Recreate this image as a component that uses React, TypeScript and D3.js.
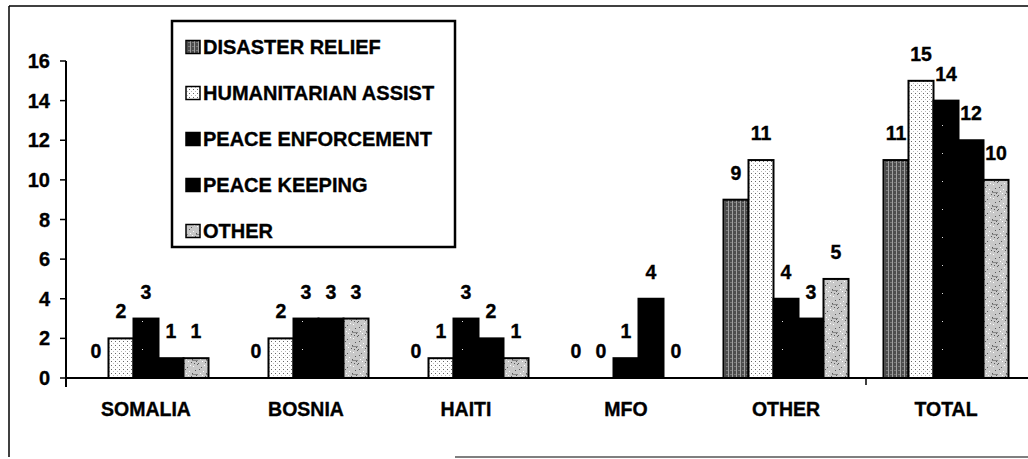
import React from 'react';
import * as d3 from 'd3';

// operations by location, one array per series
const categories = ['SOMALIA', 'BOSNIA', 'HAITI', 'MFO', 'OTHER', 'TOTAL'];
const seriesNames = ['DISASTER RELIEF', 'HUMANITARIAN ASSIST', 'PEACE ENFORCEMENT', 'PEACE KEEPING', 'OTHER'];
const disasterRelief = [0, 0, 0, 0, 9, 11];
const humanitarianAssist = [2, 2, 1, 0, 11, 15];
const peaceEnforcement = [3, 3, 3, 1, 4, 14];
const peaceKeeping = [1, 3, 2, 4, 3, 12];
const otherOps = [1, 3, 1, 0, 5, 10];
const yTicks = [0, 2, 4, 6, 8, 10, 12, 14, 16];

const seriesValues = [disasterRelief, humanitarianAssist, peaceEnforcement, peaceKeeping, otherOps];

const W = 1028;
const H = 459;
const plot = { left: 66, right: 1026, top: 61, bottom: 378 };
const FONT = '"Liberation Sans", Arial, sans-serif';
const fills = ['url(#pDisaster)', 'url(#pHuman)', 'url(#pEnforce)', '#000', 'url(#pOther)'];

// speckle positions for the OTHER texture
const speckle = [
  [1, 2], [5, 0], [9, 3], [12, 1], [3, 6], [7, 5], [11, 7], [0, 9], [4, 11], [8, 9], [13, 12], [6, 13], [10, 11], [2, 13]
];

function Patterns() {
  return (
    <defs>
      <pattern id="pDisaster" width="4" height="4" patternUnits="userSpaceOnUse">
        <rect width="4" height="4" fill="#4d4d4d" />
        <rect x="2" width="1" height="4" fill="#a0a0a0" />
        <rect y="2" width="2" height="1" fill="#7a7a7a" />
      </pattern>
      <pattern id="pHuman" width="4" height="4" patternUnits="userSpaceOnUse">
        <rect width="4" height="4" fill="#fff" />
        <rect x="1" y="1" width="1" height="1" fill="#666" />
        <rect x="3" y="3" width="1" height="1" fill="#bbb" />
      </pattern>
      <pattern id="pEnforce" width="22" height="28" patternUnits="userSpaceOnUse">
        <rect width="22" height="28" fill="#000" />
        <rect x="10" y="13" width="1" height="1" fill="#ddd" />
      </pattern>
      <pattern id="pOther" width="14" height="14" patternUnits="userSpaceOnUse">
        <rect width="14" height="14" fill="#c8c8c8" />
        {speckle.map(([a, b], i) => (
          <rect key={i} x={a} y={b} width="1" height="1" fill={i % 3 === 0 ? '#fff' : '#5a5a5a'} />
        ))}
        <rect x="0" y="10" width="6" height="1" fill="#888" />
      </pattern>
    </defs>
  );
}

export default function App() {
  const x0 = d3.scaleBand<string>().domain(categories).range([plot.left, plot.right]);
  const x1 = d3
    .scaleBand<number>()
    .domain(d3.range(seriesNames.length))
    .range([17.5, x0.bandwidth() - 17.5]);
  const y = d3.scaleLinear().domain([0, 16]).range([plot.bottom, plot.top]);
  const bw = x1.bandwidth();

  return (
    <svg
      width={W}
      height={H}
      style={{ position: 'absolute', left: 0, top: 0, background: '#fff' }}
      fontFamily={FONT}
      fontWeight="bold"
    >
      <Patterns />

      {/* frame */}
      <line x1={9} y1={6} x2={W} y2={6} stroke="#000" strokeWidth={1.5} />
      <line x1={9} y1={6} x2={9} y2={457} stroke="#000" strokeWidth={1.5} />
      <line x1={455} y1={457} x2={W} y2={457} stroke="#555" strokeWidth={1.5} />

      {/* bars */}
      {categories.map((c, ci) => (
        <g key={c} transform={`translate(${x0(c)},0)`}>
          {seriesValues.map((vals, si) =>
            vals[ci] > 0 ? (
              <rect
                key={si}
                x={x1(si)}
                y={y(vals[ci])}
                width={bw}
                height={y(0) - y(vals[ci])}
                fill={fills[si]}
                stroke="#000"
                strokeWidth={2}
              />
            ) : null
          )}
          {seriesValues.map((vals, si) => (
            <text
              key={'l' + si}
              x={(x1(si) as number) + bw / 2}
              y={y(vals[ci]) - 20}
              textAnchor="middle"
              fontSize={19.5}
              stroke="#000"
              strokeWidth={0.35}
            >
              {vals[ci]}
            </text>
          ))}
          <text
            x={x0.bandwidth() / 2}
            y={416}
            textAnchor="middle"
            fontSize={19.5}
            stroke="#000"
            strokeWidth={0.35}
          >
            {c}
          </text>
        </g>
      ))}

      {/* y axis */}
      <line x1={plot.left} y1={plot.top} x2={plot.left} y2={plot.bottom + 9} stroke="#000" strokeWidth={2} />
      {yTicks.map(t => (
        <g key={t}>
          <line x1={plot.left - 6} x2={plot.left} y1={y(t)} y2={y(t)} stroke="#000" strokeWidth={1.5} />
          <text x={50} y={y(t) + 7} textAnchor="end" fontSize={20} stroke="#000" strokeWidth={0.35}>
            {t}
          </text>
        </g>
      ))}

      {/* x axis */}
      <line x1={plot.left} y1={plot.bottom} x2={W} y2={plot.bottom} stroke="#000" strokeWidth={2} />
      <line
        x1={x0('TOTAL') as number}
        x2={x0('TOTAL') as number}
        y1={plot.bottom}
        y2={plot.bottom + 7}
        stroke="#000"
        strokeWidth={1.5}
      />

      {/* legend */}
      <rect x={172} y={21} width={283} height={226} fill="#fff" stroke="#000" strokeWidth={2.5} />
      {seriesNames.map((s, i) => {
        const cy = 47 + i * 46;
        return (
          <g key={s}>
            <rect x={186} y={cy - 6.5} width={14} height={13} fill={fills[i]} stroke="#000" strokeWidth={1.5} />
            <text x={203} y={cy + 7} fontSize={20} stroke="#000" strokeWidth={0.35}>
              {s}
            </text>
          </g>
        );
      })}
    </svg>
  );
}
